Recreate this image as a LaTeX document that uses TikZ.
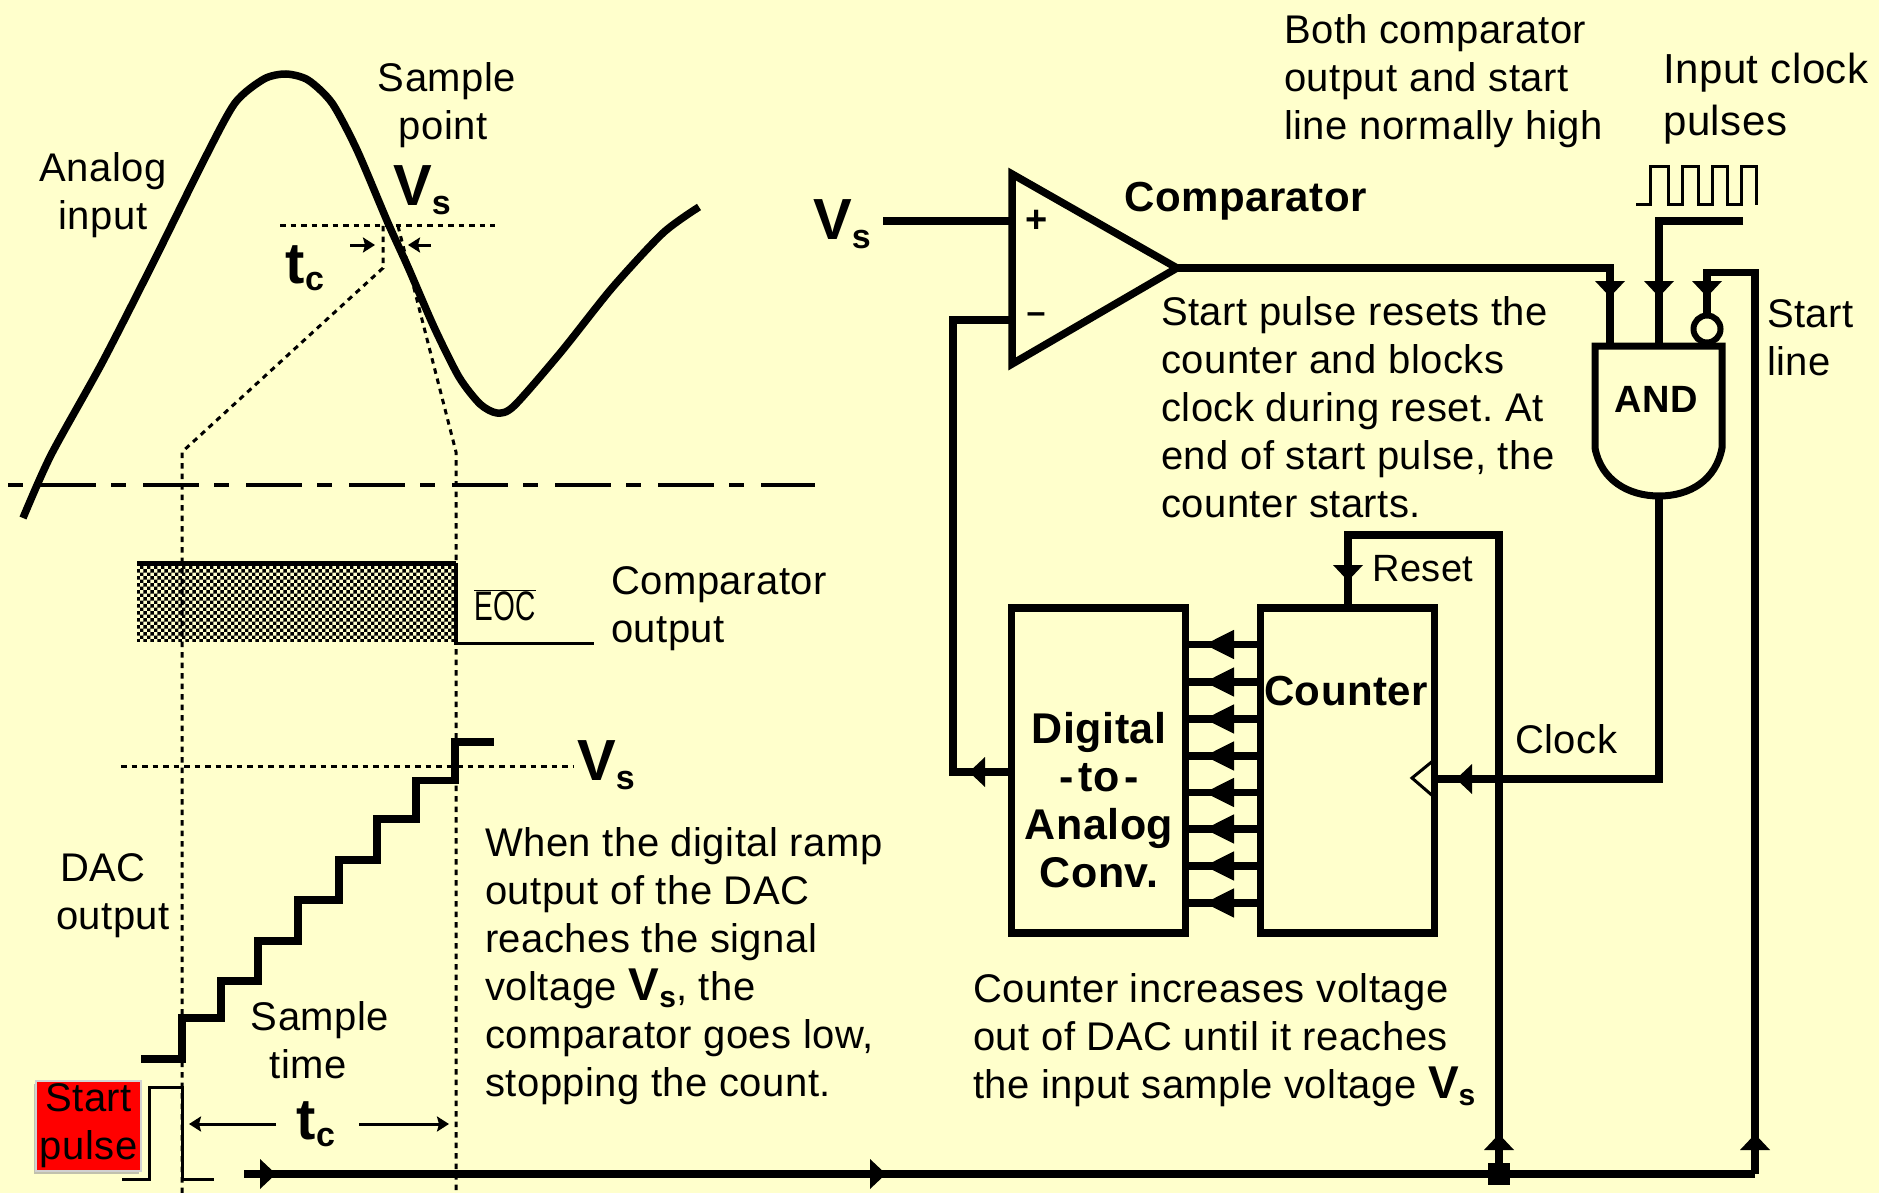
\documentclass[tikz,border=0pt]{standalone}
\usepackage{fontspec}
\setmainfont[LetterSpace=1.2]{Liberation Sans}
\usetikzlibrary{arrows.meta,positioning,patterns,shadows}
\definecolor{paper}{HTML}{FFFFCC}
\pgfdeclarepatternformonly{checker}{\pgfqpoint{0pt}{0pt}}{\pgfqpoint{7.4pt}{7.4pt}}{\pgfqpoint{7.4pt}{7.4pt}}{%
  \pgfpathrectangle{\pgfpointorigin}{\pgfqpoint{3.7pt}{3.7pt}}%
  \pgfpathrectangle{\pgfqpoint{3.7pt}{3.7pt}}{\pgfqpoint{3.7pt}{3.7pt}}%
  \pgfusepath{fill}}
\newcommand{\lblfont}{\fontsize{40}{48}\selectfont\frenchspacing}
\newcommand{\boldfont}{\fontsize{42}{48}\selectfont\bfseries}
\newcommand{\bigVs}{{\fontsize{58}{58}\selectfont\bfseries V}\raisebox{-9pt}{\fontsize{34}{34}\selectfont\bfseries s}}
\newcommand{\inlineVs}{{\fontsize{46}{46}\selectfont\bfseries V}\raisebox{-7pt}{\fontsize{30}{30}\selectfont\bfseries s}}
\newcommand{\bigtc}{{\fontsize{58}{58}\selectfont\bfseries t}\raisebox{-7pt}{\fontsize{34}{34}\selectfont\bfseries c}}

\begin{document}
\begin{tikzpicture}[
  x=1pt, y=-1pt,
  lbl/.style={font=\lblfont, align=left, anchor=west, inner sep=0pt},
  midlbl/.style={font=\lblfont, align=center, inner sep=0pt},
  boldlbl/.style={font=\boldfont, align=center, inner sep=0pt},
  block/.style={draw, line width=7.5pt, outer sep=0pt, minimum width=174pt, minimum height=325pt},
  wire/.style={line width=7.5pt},
  tip/.style={-{Triangle[length=16pt, width=29pt]}},
  bittip/.style={-{Triangle[length=30pt, width=27pt]}},
  thinwire/.style={line width=3pt},
  smalltip/.style={-{Stealth[length=12pt, width=15pt, inset=2pt]}},
  guide/.style={line width=3pt, dash pattern=on 5.5pt off 5pt},
  signal/.style={line width=7.5pt},
  pulsebox/.style={fill=red, draw=black!18, line width=1.5pt, minimum width=105pt, minimum height=90pt, inner sep=0pt, align=center, font=\lblfont, drop shadow={shadow xshift=-2pt, shadow yshift=-3pt, fill=black!40, opacity=0.6}}
]
\fill[paper] (0,0) rectangle (1879,1193);
\useasboundingbox (0,0) rectangle (1879,1193);

\fill[pattern=checker] (137,563) rectangle (455,641);
\draw[line width=5pt] (137,563) -- (456,563);
\draw[line width=3.5pt] (456,563) |- (594,643.5);
\draw[guide] (280,226) -- (495,226);
\draw[guide] (383,226) -- (383,268) -- (182,452) -- (182,1193);
\draw[guide] (398,226) -- (456,452) -- (456,1193);
\draw[guide] (121,766) -- (574,766);
\draw[line width=4.5pt, dash pattern=on 56pt off 15pt on 15pt off 17pt, dash phase=71pt] (8,485) -- (815,485);
\draw[signal] plot[smooth, tension=0.45] coordinates {(23,518) (51,455) (102,363) (153,263) (204,160) (235,103) (264,79) (286,74) (308,80) (332,103) (357,150) (388,223) (408,267) (434,327) (459,377) (480,404) (497,413) (514,406) (561,352) (612,288) (663,233) (699,207)};
\draw[signal] (141,1059) -| (182,1018) -| (221,981) -| (258,941) -| (298,900) -| (339,860) -| (377,819) -| (416,780.5) -| (455,742) -- (494,742);
\draw[thinwire] (122,1179) -| (149,1087) -| (182,1179) -- (214,1179);

\node[midlbl] (analog) at (103,195) {Analog\\input};
\node[midlbl] (sample) at (447,105) {Sample\\point\hspace*{8pt}};
\node[inner sep=0pt] (vstop) at (422,190) {\bigVs};
\node[inner sep=0pt] (tctop) at (305,268) {\bigtc};
\coordinate (tcla) at (350,245);
\coordinate (tclb) at (375,245);
\coordinate (tcra) at (431,245);
\coordinate (tcrb) at (408,245);
\draw[thinwire, smalltip] (tcla) -- (tclb);
\draw[thinwire, smalltip] (tcra) -- (tcrb);

\node[font=\fontsize{33}{33}\selectfont, inner sep=0pt] (eoc) at (505,605) {\scalebox{0.85}[1.25]{$\overline{\mbox{EOC}}$}};
\node[lbl] (compout) at (611,609) {Comparator\\output};
\node[inner sep=0pt] (vsdac) at (606,765) {\bigVs};
\node[lbl] (dacout) at (56,896) {\hspace*{4pt}DAC\\output};
\node[lbl] (ramp) at (485,966) {When the digital ramp\\output of the DAC\\reaches the signal\\voltage \inlineVs, the\\comparator goes low,\\stopping the count.};
\node[midlbl] (stime) at (320,1040) {Sample\\time\hspace*{24pt}};
\node[pulsebox] (startp) at (88.5,1126) {\raisebox{-4pt}{Start}\\\raisebox{-4pt}{pulse}};
\node[inner sep=0pt] (tcbot) at (316,1124) {\bigtc};
\coordinate (tcba) at (276,1124);
\coordinate (tcbb) at (189,1124);
\coordinate (tcbc) at (359,1124);
\coordinate (tcbd) at (449,1124);
\draw[thinwire, smalltip] (tcba) -- (tcbb);
\draw[thinwire, smalltip] (tcbc) -- (tcbd);

\coordinate (vp) at (1012,174);
\coordinate (vm) at (1012,364);
\coordinate (apex) at (1177,268);
\coordinate (vsin) at (883,221);
\coordinate (plusin) at (1012,221);
\coordinate (minusin) at (1012,320);
\draw[line width=7.5pt, line join=miter] (vp) -- (apex) -- (vm) -- cycle;
\node[inner sep=0pt, font=\fontsize{38}{38}\selectfont\bfseries] (plus) at (1037,221) {+};
\node[inner sep=0pt, font=\fontsize{34}{34}\selectfont\bfseries] (minus) at (1036,318) {--};
\node[inner sep=0pt] (vsin1) at (842,224) {\bigVs};
\draw[wire] (vsin) -- (plusin);
\node[boldlbl, anchor=west] (cmp) at (1124,201) {Comparator};
\node[lbl] (startnote) at (1161,407) {Start pulse resets the\\counter and blocks\\clock during reset. At\\end of start pulse, the\\counter starts.};
\node[lbl] (both) at (1284,81) {Both comparator\\output and start\\line normally high};
\node[lbl, font=\fontsize{42}{52}\selectfont] (inclk) at (1663,99) {Input clock\\pulses};
\node[lbl] (startl) at (1767,338) {Start\\line};

\coordinate (ga) at (1595,346);
\coordinate (gb) at (1722,346);
\coordinate (gc) at (1722,448);
\coordinate (gd) at (1595,448);
\coordinate (gout) at (1659,496);
\draw[line width=7pt] (ga) -- (gb) -- (gc) .. controls (1716,480) and (1690,496) .. (gout) .. controls (1628,496) and (1601,480) .. (gd) -- cycle;
\node[boldlbl, font=\fontsize{38}{38}\selectfont\bfseries] (andlbl) at (1656,399) {AND};
\coordinate (ina) at (1610,297);
\coordinate (inaend) at (1610,346);
\coordinate (inb) at (1659,297);
\coordinate (inbend) at (1659,346);
\coordinate (clkin) at (1743,221);
\draw[wire] (apex) -| (inaend);
\draw[wire, tip] (apex) -| (ina);
\draw[wire] (clkin) -| (inbend);
\draw[wire, tip] (clkin) -| (inb);
\node[draw, circle, line width=6pt, minimum size=27pt, inner sep=0pt, outer sep=0pt] (bubble) at (1707,329) {};
\draw[thinwire] (1636,205) -| (1650,167) -| (1668,205) -| (1682,167) -| (1698,205) -| (1712,167) -| (1727,205) -| (1741,167) -| (1756,205);

\node[block] (dac) at (1098.5,770.5) {};
\node[block, right=75pt of dac] (counter) {};
\node[boldlbl, font=\fontsize{43}{48}\selectfont\bfseries] (dactxt) at (1099,800) {Digital\\-\hspace{5pt}to\hspace{5pt}-\\Analog\\Conv.};
\node[boldlbl] (cnttxt) at (1346,691) {Counter};
\foreach \yy [count=\i] in {644.5,682,719,756,792.5,829,866,903} {
  \coordinate (bit\i) at (1204,\yy);
  \draw[wire] (counter.west |- bit\i) -- (dac.east |- bit\i);
  \draw[wire, bittip] (counter.west |- bit\i) -- (bit\i);
}
\coordinate (fbtip) at (969,772);
\coordinate (fbout) at (1012,772);
\coordinate (fbcorner) at (953,772);
\draw[wire] (fbout) -- (fbcorner) |- (minusin);
\draw[wire, tip] (fbout) -- (fbtip);

\coordinate (busstart) at (244,1174);
\coordinate (busa) at (276,1174);
\coordinate (busb) at (886,1174);
\coordinate (junc) at (1499,1174);
\coordinate (buscorner) at (1755,1174);
\coordinate (rstup) at (1499,1134);
\coordinate (stup) at (1755,1134);
\coordinate (rsttop) at (1499,535);
\coordinate (rsttip) at (1348,581);
\coordinate (sttip) at (1707,297);
\coordinate (stbend) at (1707,272.5);
\coordinate (clkcorner) at (1659,779);
\coordinate (clktip) at (1456,779);
\draw[wire] (busstart) -- (buscorner);
\draw[wire, tip] (busstart) -- (busa);
\draw[wire, tip] (busstart) -- (busb);
\node[fill=black, minimum size=22pt, inner sep=0pt] (juncbox) at (junc) {};
\draw[wire] (junc) -- (rsttop) -| (counter.north -| rsttip);
\draw[wire, tip] (junc) -- (rstup);
\draw[wire, tip] (rsttop) -| (rsttip);
\draw[wire] (buscorner) |- (stbend) -- (bubble.north);
\draw[wire, tip] (buscorner) -- (stup);
\draw[wire, tip] (stbend) -- (sttip);
\draw[wire] (gout) -- (clkcorner) -- (clkcorner -| counter.east);
\draw[wire, tip] (clkcorner) -- (clktip);
\draw[thinwire, line join=miter] (1434,760) -- (1412,778) -- (1434,797);
\node[lbl] (rstlbl) at (1372,569) {\fontsize{38}{48}\selectfont Reset};
\node[lbl] (clklbl) at (1515,739) {Clock};
\node[lbl] (cntnote) at (973,1040) {Counter increases voltage\\out of DAC until it reaches\\the input sample voltage \inlineVs};
\end{tikzpicture}
\end{document}
